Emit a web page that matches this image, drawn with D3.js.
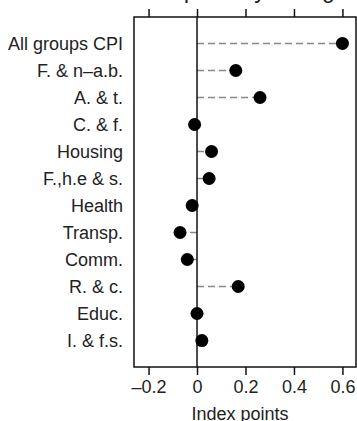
<!DOCTYPE html>
<html lang="en">
<head>
<meta charset="utf-8">
<title>Dot plot</title>
<script src="https://cdn.jsdelivr.net/npm/d3@7"></script>
<style>
  body { margin: 0; background: #fff; }
  text { font-family: "Liberation Sans", Arial, sans-serif; fill: #222; }
  .labels { font-size: 18px; }
  .ticklab { font-size: 18px; }
</style>
</head>
<body>
<div id="chart"></div>
<script>
const categories = ["All groups CPI", "F. & n\u2013a.b.", "A. & t.", "C. & f.", "Housing", "F.,h.e & s.",
                    "Health", "Transp.", "Comm.", "R. & c.", "Educ.", "I. & f.s."];
const values = [0.6, 0.16, 0.26, -0.01, 0.06, 0.05, -0.02, -0.07, -0.04, 0.17, 0, 0.02];
const ticks = [-0.2, 0, 0.2, 0.4, 0.6];

const w = 357, h = 421;
const mLeft = 134, mRight = 356, mTop = 17, mBottom = 367;

const svg = d3.select("#chart").append("svg")
  .attr("width", w).attr("height", h);

const x = d3.scaleLinear().domain([-0.26, 0.656]).range([mLeft, mRight]);
const y = d3.scalePoint().domain(categories).range([mTop, mBottom]).padding(0.98);

const data = categories.map((c, i) => ({cat: c, val: values[i]}));

// title above the plot, cut off by the top edge as in the original
svg.append("text")
  .attr("x", 184).attr("y", -2)
  .attr("text-anchor", "middle")
  .style("font-size", "23px")
  .text("Contribution to quarterly change");

// dashed stems
svg.selectAll(".stem")
  .data(data)
  .enter().append("line")
  .attr("class", "stem")
  .attr("x1", x(0)).attr("x2", d => x(d.val))
  .attr("y1", d => y(d.cat)).attr("y2", d => y(d.cat))
  .attr("stroke", "#888").attr("stroke-width", 1.5)
  .attr("stroke-dasharray", "7,4");

// zero line
svg.append("line")
  .attr("x1", x(0)).attr("x2", x(0))
  .attr("y1", mTop).attr("y2", mBottom)
  .attr("stroke", "#111").attr("stroke-width", 1.5);

// frame
svg.append("rect")
  .attr("x", mLeft).attr("y", mTop)
  .attr("width", mRight - mLeft).attr("height", mBottom - mTop)
  .attr("fill", "none").attr("stroke", "#111").attr("stroke-width", 1.5);

// axes ticks top and bottom
const xAxisB = d3.axisBottom(x).tickValues(ticks).tickSize(8).tickPadding(5)
  .tickFormat(d => d === 0 ? "0" : d3.format(".1f")(d).replace("-", "\u2013").replace("\u2212", "\u2013"));
const gb = svg.append("g").attr("transform", `translate(0,${mBottom})`).call(xAxisB);
gb.select(".domain").remove();
gb.selectAll(".tick line").attr("stroke", "#111").attr("stroke-width", 1.5);
gb.selectAll(".tick text").attr("class", "ticklab").attr("fill", "#222")
  .style("font-family", "Liberation Sans, Arial, sans-serif").style("font-size", "18px");

const gt = svg.append("g").attr("transform", `translate(0,${mTop})`)
  .call(d3.axisTop(x).tickValues(ticks).tickSize(8).tickFormat(""));
gt.select(".domain").remove();
gt.selectAll(".tick line").attr("stroke", "#111").attr("stroke-width", 1.5);

// dots
svg.selectAll(".dot")
  .data(data)
  .enter().append("circle")
  .attr("class", "dot")
  .attr("cx", d => x(d.val)).attr("cy", d => y(d.cat))
  .attr("r", 6.5).attr("fill", "#000");

// category labels
svg.selectAll(".labels")
  .data(data)
  .enter().append("text")
  .attr("class", "labels")
  .attr("x", 123).attr("y", d => y(d.cat))
  .attr("dy", "0.35em")
  .attr("text-anchor", "end")
  .text(d => d.cat);

// x axis title
svg.append("text")
  .attr("x", 240).attr("y", 420)
  .attr("text-anchor", "middle")
  .style("font-size", "18px")
  .text("Index points");
</script>
</body>
</html>
